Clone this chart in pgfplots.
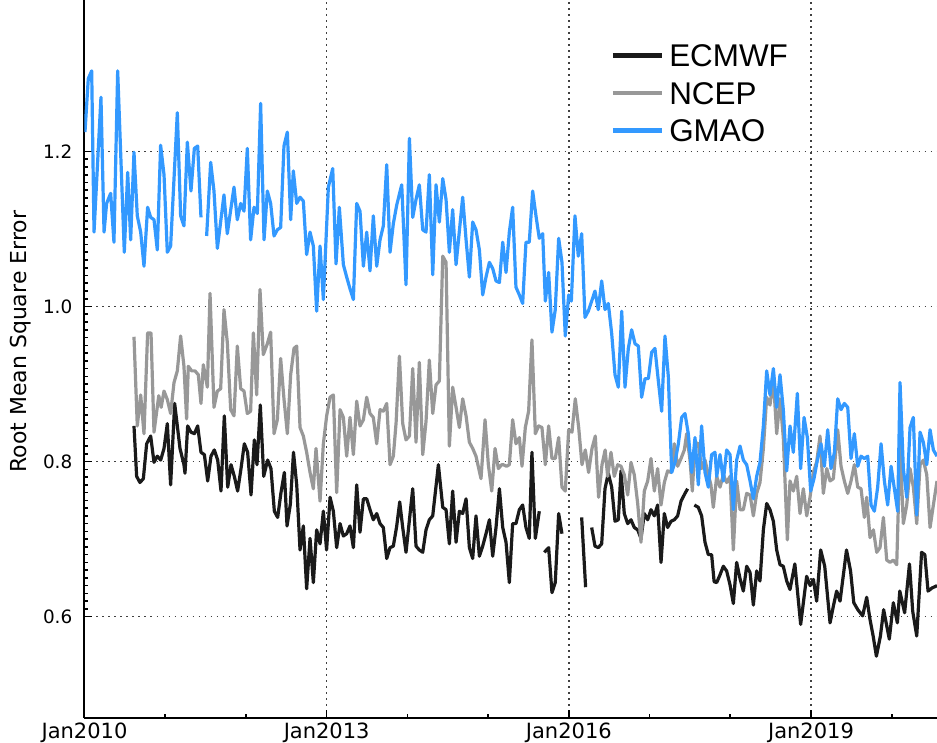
\documentclass[border=0pt]{standalone}
\usepackage{fontspec}
\setmainfont{DejaVu Sans}
\newfontfamily\libsans{Liberation Sans}
\usepackage{pgfplots}
\pgfplotsset{compat=1.18}
\definecolor{ecmwf}{RGB}{26,26,26}
\definecolor{ncep}{RGB}{152,152,152}
\definecolor{gmao}{RGB}{51,153,255}
\begin{document}
\begin{tikzpicture}
\begin{axis}[
  at={(0pt,0pt)}, anchor=south west,
  scale only axis, width=426.25pt, height=359pt,
  xmin=2010, xmax=2020.561, ymin=0.4693, ymax=1.3954,
  axis x line*=bottom, axis y line*=left,
  axis line style={line width=1pt, black, -},
  xtick={2010,2013,2016,2019},
  xticklabels={Jan2010,Jan2013,Jan2016,Jan2019},
  minor xtick={2011,2012,2014,2015,2017,2018,2020},
  ytick={0.6,0.8,1.0,1.2},
  minor y tick num=19,
  /pgf/number format/fixed, /pgf/number format/fixed zerofill,
  /pgf/number format/precision=1, /pgf/number format/assume math mode=true,
  tick style={black, line width=0.8pt},
  major tick length=4pt, minor tick length=2pt,
  grid=major,
  major grid style={black!75, line width=0.7pt, dash pattern=on 0.8pt off 2.2pt},
  xticklabel style={font=\fontsize{10.5}{12}\selectfont, inner sep=0pt, yshift=-2.5pt},
  yticklabel style={font=\fontsize{9.2}{11}\selectfont, inner sep=0pt, xshift=-5.9pt},
  ylabel={Root Mean Square Error},
  ylabel style={font=\fontsize{11}{13}\selectfont, at={(axis description cs:-0.0748,0.524)}, anchor=center},
  unbounded coords=jump,
  legend style={draw=none, fill=none, at={(axis description cs:0.6165,0.8705)}, anchor=west, inner sep=0pt,
    font=\libsans\fontsize{15.7}{18}\selectfont, row sep=7.5pt,
    nodes={inner sep=0pt, text height=11.2pt, text depth=0pt},
    /tikz/every odd column/.append style={column sep=2.5pt}},
  legend cell align=left,
  legend image code/.code={\draw[#1, line width=2.4pt] (0pt,0pt) -- (24.5pt,0pt);},
]
\addplot[ecmwf, line width=1.6pt, line join=round] coordinates {
(2010.613,0.846) (2010.646,0.781) (2010.687,0.773) (2010.729,0.778) (2010.770,0.823) (2010.820,0.833)
(2010.861,0.799) (2010.902,0.807) (2010.944,0.802) (2010.985,0.817) (2011.026,0.849) (2011.067,0.770)
(2011.117,0.875) (2011.183,0.817) (2011.232,0.796) (2011.245,0.785) (2011.278,0.846) (2011.319,0.838)
(2011.361,0.836) (2011.402,0.846) (2011.443,0.812) (2011.485,0.809) (2011.526,0.775) (2011.567,0.807)
(2011.608,0.815) (2011.650,0.802) (2011.691,0.762) (2011.732,0.859) (2011.774,0.767) (2011.815,0.796)
(2011.856,0.781) (2011.897,0.762) (2011.939,0.791) (2011.980,0.823) (2012.021,0.812) (2012.063,0.757)
(2012.104,0.828) (2012.137,0.796) (2012.178,0.873) (2012.220,0.781) (2012.269,0.802) (2012.310,0.791)
(2012.352,0.736) (2012.393,0.728) (2012.434,0.760) (2012.476,0.786) (2012.509,0.717) (2012.550,0.745)
(2012.589,0.812) (2012.629,0.770) (2012.670,0.686) (2012.711,0.717) (2012.752,0.636) (2012.794,0.701)
(2012.835,0.644) (2012.876,0.712) (2012.918,0.694) (2012.959,0.736) (2012.999,0.686) (2013.042,0.754)
(2013.083,0.736) (2013.124,0.689) (2013.166,0.720) (2013.207,0.704) (2013.248,0.707) (2013.289,0.717)
(2013.331,0.689) (2013.372,0.770) (2013.413,0.709) (2013.455,0.752) (2013.496,0.752) (2013.537,0.738)
(2013.578,0.725) (2013.620,0.733) (2013.661,0.720) (2013.702,0.715) (2013.744,0.675) (2013.785,0.689)
(2013.826,0.691) (2013.868,0.717) (2013.905,0.748) (2013.942,0.715) (2013.983,0.683) (2014.066,0.765)
(2014.107,0.691) (2014.148,0.686) (2014.190,0.683) (2014.231,0.712) (2014.272,0.725) (2014.314,0.730)
(2014.384,0.796) (2014.438,0.741) (2014.479,0.738) (2014.520,0.694) (2014.561,0.762) (2014.603,0.696)
(2014.644,0.736) (2014.685,0.733) (2014.727,0.752) (2014.768,0.689) (2014.809,0.675) (2014.850,0.730)
(2014.892,0.678) (2014.933,0.691) (2014.974,0.707) (2015.016,0.725) (2015.057,0.678) (2015.098,0.715)
(2015.140,0.765) (2015.181,0.715) (2015.222,0.696) (2015.263,0.644) (2015.304,0.720) (2015.345,0.720)
(2015.387,0.738) (2015.428,0.744) (2015.469,0.715) (2015.510,0.701) (2015.543,0.812) (2015.585,0.701)
(2015.634,0.736) (2015.665,nan)
(2015.696,0.683) (2015.750,0.689) (2015.791,0.631) (2015.832,0.644) (2015.874,0.733) (2015.915,0.707)
(2016.000,nan)
(2016.159,0.728) (2016.208,0.638) (2016.245,nan)
(2016.283,0.715) (2016.324,0.691) (2016.365,0.689) (2016.407,0.694) (2016.448,0.765) (2016.489,0.785)
(2016.531,0.767) (2016.572,0.723) (2016.613,0.725) (2016.646,0.788) (2016.687,0.733) (2016.729,0.720)
(2016.770,0.725) (2016.811,0.715) (2016.853,0.712) (2016.894,0.701) (2016.935,0.733) (2016.977,0.725)
(2017.018,0.738) (2017.059,0.730) (2017.100,0.744) (2017.142,0.670) (2017.183,0.733) (2017.224,0.715)
(2017.266,0.723) (2017.307,0.725) (2017.348,0.730) (2017.390,0.749) (2017.439,0.759) (2017.472,0.765)
(2017.510,nan)
(2017.555,0.744) (2017.604,0.741) (2017.645,0.730) (2017.687,0.696) (2017.728,0.680) (2017.769,0.680)
(2017.800,0.645) (2017.832,0.644) (2017.873,0.654) (2017.914,0.665) (2017.955,0.659) (2017.997,0.641)
(2018.038,0.617) (2018.079,0.670) (2018.121,0.649) (2018.162,0.633) (2018.203,0.665) (2018.245,0.657)
(2018.286,0.615) (2018.327,0.659) (2018.368,0.646) (2018.410,0.712) (2018.451,0.746) (2018.492,0.738)
(2018.534,0.723) (2018.575,0.686) (2018.616,0.667) (2018.657,0.665) (2018.699,0.646) (2018.740,0.635)
(2018.800,0.668) (2018.872,0.590) (2018.946,0.652) (2018.990,0.640) (2019.030,0.648) (2019.070,0.620)
(2019.120,0.686) (2019.170,0.665) (2019.236,0.592) (2019.280,0.615) (2019.318,0.633) (2019.360,0.620)
(2019.440,0.686) (2019.490,0.659) (2019.530,0.618) (2019.580,0.609) (2019.640,0.601) (2019.690,0.625)
(2019.730,0.597) (2019.770,0.575) (2019.810,0.549) (2019.860,0.575) (2019.900,0.609) (2019.970,0.571)
(2020.020,0.618) (2020.070,0.592) (2020.100,0.633) (2020.160,0.605) (2020.220,0.668) (2020.260,0.607)
(2020.310,0.575) (2020.370,0.683) (2020.410,0.680) (2020.450,0.633) (2020.500,0.637) (2020.561,0.640)
};
\addlegendentry{ECMWF}
\addplot[ncep, line width=1.6pt, line join=round] coordinates {
(2010.613,0.961) (2010.654,0.846) (2010.696,0.886) (2010.737,0.836) (2010.782,0.966) (2010.824,0.966)
(2010.861,0.838) (2010.920,0.885) (2010.950,0.870) (2010.985,0.891) (2011.026,0.880) (2011.067,0.862)
(2011.109,0.902) (2011.150,0.917) (2011.191,0.962) (2011.232,0.923) (2011.265,0.855) (2011.286,0.923)
(2011.328,0.917) (2011.369,0.917) (2011.410,0.912) (2011.443,0.875) (2011.472,0.925) (2011.522,0.896)
(2011.555,1.017) (2011.604,0.870) (2011.646,0.891) (2011.687,0.894) (2011.728,0.996) (2011.769,0.954)
(2011.811,0.867) (2011.852,0.859) (2011.893,0.949) (2011.935,0.894) (2011.976,0.891) (2012.017,0.862)
(2012.058,0.865) (2012.092,0.966) (2012.133,0.886) (2012.174,1.022) (2012.215,0.938) (2012.265,0.952)
(2012.306,0.967) (2012.348,0.836) (2012.389,0.854) (2012.430,0.933) (2012.471,0.881) (2012.513,0.836)
(2012.554,0.912) (2012.595,0.946) (2012.629,0.949) (2012.670,0.844) (2012.711,0.833) (2012.752,0.812)
(2012.794,0.786) (2012.835,0.765) (2012.868,0.817) (2012.918,0.749) (2012.959,0.823) (2013.000,0.859)
(2013.042,0.883) (2013.083,0.886) (2013.124,0.760) (2013.166,0.867) (2013.207,0.857) (2013.248,0.807)
(2013.289,0.857) (2013.331,0.809) (2013.372,0.878) (2013.413,0.846) (2013.455,0.854) (2013.496,0.883)
(2013.537,0.862) (2013.578,0.857) (2013.620,0.823) (2013.661,0.867) (2013.702,0.865) (2013.744,0.875)
(2013.785,0.796) (2013.826,0.807) (2013.860,0.850) (2013.901,0.936) (2013.942,0.849) (2013.983,0.828)
(2014.025,0.833) (2014.066,0.920) (2014.107,0.825) (2014.148,0.928) (2014.190,0.809) (2014.231,0.852)
(2014.272,0.931) (2014.314,0.862) (2014.355,0.899) (2014.396,0.904) (2014.438,1.065) (2014.479,1.057)
(2014.520,0.820) (2014.561,0.896) (2014.603,0.870) (2014.644,0.844) (2014.685,0.881) (2014.727,0.859)
(2014.768,0.825) (2014.809,0.817) (2014.850,0.807) (2014.912,0.778) (2014.962,0.854) (2015.003,0.796)
(2015.045,0.762) (2015.086,0.817) (2015.127,0.791) (2015.168,0.796) (2015.188,0.796) (2015.229,0.794)
(2015.263,0.796) (2015.304,0.854) (2015.345,0.823) (2015.387,0.831) (2015.420,0.794) (2015.461,0.844)
(2015.502,0.865) (2015.543,0.957) (2015.585,0.836) (2015.626,0.846) (2015.667,0.844) (2015.709,0.796)
(2015.750,0.846) (2015.791,0.804) (2015.832,0.804) (2015.874,0.831) (2015.915,0.767) (2015.956,0.762)
(2015.998,0.841) (2016.039,0.838) (2016.080,0.881) (2016.122,0.844) (2016.163,0.796) (2016.204,0.815)
(2016.245,0.786) (2016.287,0.817) (2016.328,0.833) (2016.369,0.754) (2016.411,0.796) (2016.450,0.815)
(2016.481,0.781) (2016.522,0.812) (2016.563,0.781) (2016.605,0.796) (2016.646,0.794) (2016.687,0.783)
(2016.729,0.757) (2016.770,0.799) (2016.811,0.783) (2016.853,0.746) (2016.894,0.696) (2016.935,0.762)
(2016.977,0.775) (2017.018,0.804) (2017.059,0.762) (2017.100,0.791) (2017.142,0.744) (2017.183,0.773)
(2017.224,0.788) (2017.266,0.786) (2017.307,0.823) (2017.348,0.794) (2017.390,0.804) (2017.431,0.815)
(2017.460,0.836) (2017.501,0.802) (2017.530,0.762) (2017.563,0.825) (2017.604,0.823) (2017.645,0.791)
(2017.687,0.802) (2017.728,0.783) (2017.760,0.770) (2017.790,0.741) (2017.832,0.781) (2017.873,0.767)
(2017.914,0.783) (2017.955,0.773) (2017.997,0.781) (2018.038,0.686) (2018.079,0.775) (2018.121,0.738)
(2018.162,0.738) (2018.203,0.759) (2018.245,0.757) (2018.286,0.730) (2018.327,0.759) (2018.368,0.773)
(2018.410,0.817) (2018.451,0.883) (2018.492,0.873) (2018.534,0.907) (2018.575,0.836) (2018.616,0.881)
(2018.657,0.831) (2018.707,0.699) (2018.740,0.775) (2018.781,0.762) (2018.823,0.781) (2018.864,0.733)
(2018.905,0.765) (2018.947,0.730) (2018.988,0.754) (2019.029,0.786) (2019.071,0.800) (2019.112,0.833)
(2019.153,0.759) (2019.195,0.791) (2019.236,0.775) (2019.277,0.778) (2019.331,0.841) (2019.372,0.794)
(2019.413,0.775) (2019.455,0.759) (2019.496,0.775) (2019.537,0.796) (2019.579,0.767) (2019.620,0.765)
(2019.661,0.728) (2019.690,0.754) (2019.731,0.702) (2019.773,0.712) (2019.814,0.683) (2019.855,0.689)
(2019.897,0.728) (2019.938,0.673) (2019.979,0.670) (2020.020,0.673) (2020.062,0.667) (2020.103,0.820)
(2020.144,0.720) (2020.186,0.744) (2020.227,0.791) (2020.268,0.767) (2020.310,0.720) (2020.351,0.796)
(2020.392,0.802) (2020.434,0.783) (2020.475,0.715) (2020.516,0.744) (2020.561,0.775)
};
\addlegendentry{NCEP}
\addplot[gmao, line width=1.6pt, line join=round] coordinates {
(2010.006,1.225) (2010.047,1.294) (2010.089,1.304) (2010.118,1.096) (2010.204,1.270) (2010.242,1.096)
(2010.274,1.133) (2010.324,1.146) (2010.365,1.083) (2010.411,1.304) (2010.493,1.070) (2010.535,1.173)
(2010.572,1.086) (2010.613,1.199) (2010.654,1.117) (2010.696,1.096) (2010.737,1.052) (2010.782,1.128)
(2010.820,1.115) (2010.861,1.112) (2010.902,1.073) (2010.943,1.208) (2010.985,1.170) (2011.026,1.070)
(2011.067,1.078) (2011.150,1.250) (2011.191,1.117) (2011.232,1.104) (2011.274,1.212) (2011.319,1.149)
(2011.361,1.204) (2011.402,1.207) (2011.443,1.115) (2011.478,nan)
(2011.513,1.091) (2011.563,1.186) (2011.604,1.149) (2011.646,1.075) (2011.728,1.144) (2011.769,1.094)
(2011.852,1.154) (2011.893,1.112) (2011.935,1.133) (2011.976,1.123) (2012.017,1.204) (2012.058,1.086)
(2012.100,1.128) (2012.141,1.120) (2012.182,1.262) (2012.224,1.086) (2012.265,1.149) (2012.306,1.133)
(2012.348,1.091) (2012.389,1.099) (2012.430,1.102) (2012.471,1.207) (2012.513,1.225) (2012.554,1.112)
(2012.587,1.175) (2012.629,1.133) (2012.670,1.141) (2012.711,1.136) (2012.752,1.067) (2012.794,1.096)
(2012.835,1.078) (2012.876,0.994) (2012.918,1.078) (2012.959,1.009) (2013.021,1.154) (2013.075,1.178)
(2013.116,1.055) (2013.157,1.128) (2013.207,1.054) (2013.248,1.038) (2013.289,1.023) (2013.331,1.009)
(2013.372,1.133) (2013.413,1.123) (2013.455,1.052) (2013.496,1.096) (2013.537,1.046) (2013.578,1.117)
(2013.620,1.052) (2013.661,1.086) (2013.702,1.104) (2013.744,1.183) (2013.785,1.070) (2013.826,1.107)
(2013.868,1.131) (2013.930,1.157) (2013.983,1.028) (2014.025,1.217) (2014.066,1.115) (2014.107,1.138)
(2014.148,1.157) (2014.190,1.099) (2014.231,1.096) (2014.272,1.170) (2014.314,1.041) (2014.355,1.157)
(2014.396,1.109) (2014.438,1.165) (2014.479,1.138) (2014.520,1.070) (2014.561,1.125) (2014.603,1.054)
(2014.685,1.141) (2014.727,1.086) (2014.768,1.038) (2014.809,1.109) (2014.850,1.099) (2014.892,1.073)
(2014.933,1.015) (2014.974,1.038) (2015.016,1.057) (2015.057,1.049) (2015.098,1.033) (2015.140,1.031)
(2015.181,1.083) (2015.222,1.044) (2015.263,1.096) (2015.304,1.128) (2015.345,1.025) (2015.387,1.015)
(2015.428,1.004) (2015.469,1.083) (2015.510,1.083) (2015.552,1.149) (2015.593,1.117) (2015.634,1.088)
(2015.676,1.094) (2015.709,1.007) (2015.750,1.044) (2015.791,0.967) (2015.832,0.996) (2015.874,1.088)
(2015.915,1.057) (2015.956,0.962) (2015.998,1.015) (2016.031,1.007) (2016.076,1.117) (2016.117,1.065)
(2016.159,1.094) (2016.200,0.986) (2016.241,0.994) (2016.283,1.007) (2016.324,1.020) (2016.365,0.996)
(2016.407,1.033) (2016.448,0.996) (2016.489,1.004) (2016.531,0.965) (2016.572,0.912) (2016.613,0.896)
(2016.655,0.994) (2016.696,0.896) (2016.737,0.946) (2016.778,0.970) (2016.820,0.952) (2016.861,0.949)
(2016.902,0.883) (2016.944,0.907) (2016.985,0.907) (2017.026,0.941) (2017.067,0.946) (2017.109,0.904)
(2017.150,0.865) (2017.191,0.962) (2017.233,0.909) (2017.274,0.786) (2017.315,0.799) (2017.357,0.823)
(2017.398,0.857) (2017.439,0.862) (2017.480,0.836) (2017.522,0.786) (2017.563,0.831) (2017.604,0.770)
(2017.645,0.846) (2017.687,0.786) (2017.728,0.767) (2017.769,0.809) (2017.811,0.812) (2017.832,0.781)
(2017.873,0.809) (2017.914,0.775) (2017.955,0.815) (2017.997,0.809) (2018.038,0.738) (2018.079,0.802)
(2018.121,0.820) (2018.162,0.802) (2018.203,0.796) (2018.245,0.775) (2018.286,0.752) (2018.327,0.781)
(2018.368,0.799) (2018.410,0.846) (2018.451,0.917) (2018.492,0.886) (2018.534,0.920) (2018.575,0.870)
(2018.616,0.912) (2018.657,0.867) (2018.699,0.788) (2018.740,0.846) (2018.781,0.812) (2018.831,0.888)
(2018.872,0.791) (2018.914,0.857) (2018.955,0.831) (2018.996,0.762) (2019.037,0.778) (2019.079,0.802)
(2019.124,0.823) (2019.166,0.794) (2019.207,0.841) (2019.248,0.791) (2019.290,0.812) (2019.331,0.881)
(2019.372,0.867) (2019.413,0.875) (2019.455,0.870) (2019.496,0.804) (2019.537,0.836) (2019.579,0.794)
(2019.620,0.807) (2019.661,0.804) (2019.703,0.807) (2019.744,0.744) (2019.785,0.736) (2019.826,0.767)
(2019.868,0.823) (2019.909,0.775) (2019.950,0.744) (2019.992,0.794) (2020.033,0.765) (2020.074,0.736)
(2020.103,0.902) (2020.144,0.791) (2020.186,0.754) (2020.227,0.844) (2020.268,0.857) (2020.310,0.731)
(2020.351,0.838) (2020.392,0.825) (2020.434,0.796) (2020.475,0.841) (2020.516,0.815) (2020.561,0.807)
};
\addlegendentry{GMAO}
\end{axis}
\pgfresetboundingbox
\path[use as bounding box] (-42.25pt,-12.5pt) rectangle (426.25pt,359pt);
\end{tikzpicture}
\end{document}
